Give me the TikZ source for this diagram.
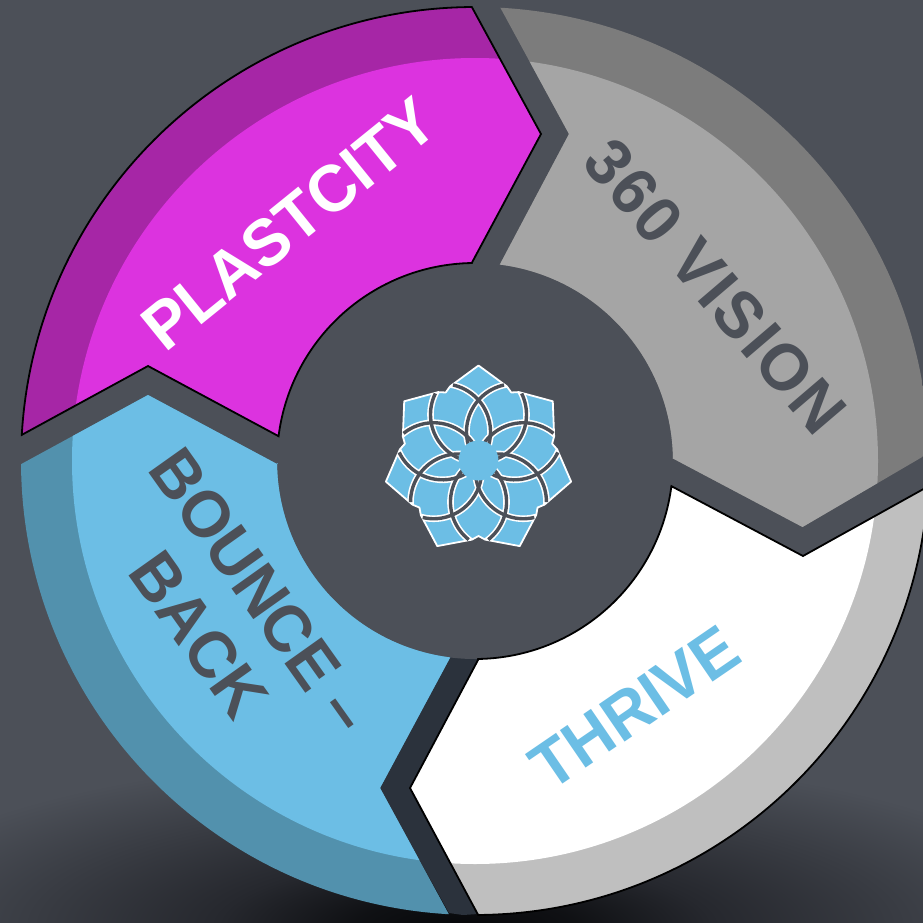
\documentclass[tikz,border=0pt]{standalone}
\usepackage{fontspec}
\usetikzlibrary{calc}
\setmainfont{Liberation Sans}
\newfontfamily\labelfont{Liberation Sans Bold}[FakeStretch=0.97]
\newfontfamily\labelwide{Liberation Sans Bold}[FakeStretch=0.97,LetterSpace=4]
\definecolor{bgc}{HTML}{4C5058}
\definecolor{magc}{HTML}{DC33DF}
\definecolor{magd}{HTML}{A626A6}
\definecolor{grayc}{HTML}{A5A5A5}
\definecolor{grayd}{HTML}{7C7C7C}
\definecolor{bluec}{HTML}{6CBEE5}
\definecolor{blued}{HTML}{5291AD}
\definecolor{whited}{HTML}{BFBFBF}
\definecolor{stripc}{HTML}{2B323C}
\definecolor{shad}{HTML}{060709}
\definecolor{shadm}{HTML}{26282E}
\pgfdeclareradialshading{botshadow}{\pgfpoint{0bp}{0bp}}{%
  color(0bp)=(shad); color(4.5bp)=(shad!70!shadm); color(10bp)=(shadm);
  color(25bp)=(bgc); color(50bp)=(bgc)}
\tikzset{
  seglabel/.style={font=\labelfont\fontsize{66}{76}\selectfont, inner sep=0pt},
  logoline/.style={line cap=butt},
  rimline/.style={black,line width=1.8pt,line join=miter},
}
\newcommand{\logostar}{%
  ($(L)+(-90:95pt)$)
  \foreach \k in {0,...,6} {
    -- ($(L)+({-90+\k*360/7+20.9}:79.4pt)$)
    -- ($(L)+({-90+\k*360/7+25.7}:75.5pt)$)
    -- ($(L)+({-90+\k*360/7+30.5}:79.4pt)$)
    -- ($(L)+({-90+(\k+1)*360/7}:95pt)$)
  } -- cycle}
\begin{document}
\begin{tikzpicture}[x=1pt,y=1pt,yscale=-1]
\useasboundingbox (0,0) rectangle (923,923);
\clip (0,0) rectangle (923,923);
\fill[bgc] (0,0) rectangle (923,923);
\coordinate (O) at (475,461);
\coordinate (L) at (478.5,460.5);
% shadow under the wheel
\shade[shading=botshadow] (465,928) ellipse (620pt and 175pt);
% strip between blue and white
\fill[stripc] (450,650) -- (478,650) -- (478,660) -- (410,788) -- (478,914) -- (463,915) -- (449,913) -- (380,788) -- cycle;
% hub
\fill[bgc] (O) circle (198pt);
% magenta
\begin{scope}
\clip ($(O)+(183.3:454pt)$) arc[start angle=183.3,end angle=269.6,radius=454pt]
  -- (541,134) -- (472,262.5) -- ($(O)+(269.1:198pt)$) arc[start angle=269.1,end angle=187.2,radius=198pt] -- (148,366) -- cycle;
\fill[magd] (0,0) rectangle (923,923);
\fill[magc] (O) circle (403pt);
\end{scope}
\draw[rimline] ($(O)+(183.3:454pt)$) arc[start angle=183.3,end angle=269.6,radius=454pt]
  -- (541,134) -- (472,262.5) -- ($(O)+(269.1:198pt)$) arc[start angle=269.1,end angle=187.2,radius=198pt] -- (148,366) -- cycle;
% gray
\begin{scope}
\clip ($(O)+(273.2:454pt)$) arc[start angle=273.2,end angle=359,radius=454pt]
  -- (802.5,527) -- (673,458.5) -- ($(O)+(359.4:198pt)$) arc[start angle=359.4,end angle=277.2,radius=198pt] -- (569,134) -- cycle;
\fill[grayd] (0,0) rectangle (930,923);
\fill[grayc] (O) circle (403pt);
\end{scope}
% white
\begin{scope}
\clip ($(O)+(3.2:454pt)$) arc[start angle=3.2,end angle=89.6,radius=454pt]
  -- (410,788) -- (478,660) -- ($(O)+(89.1:198pt)$) arc[start angle=89.1,end angle=7.3,radius=198pt] -- (803,556) -- cycle;
\fill[whited] (0,0) rectangle (930,923);
\fill[white] (O) circle (403pt);
\end{scope}
\draw[rimline] ($(O)+(3.2:454pt)$) arc[start angle=3.2,end angle=89.6,radius=454pt]
  -- (410,788) -- (478,660) -- ($(O)+(89.1:198pt)$) arc[start angle=89.1,end angle=7.3,radius=198pt] -- (803,556) -- cycle;
% blue
\begin{scope}
\clip ($(O)+(93.3:454pt)$) arc[start angle=93.3,end angle=179.6,radius=454pt]
  -- (148,395) -- (277,464) -- ($(O)+(179.4:198pt)$) arc[start angle=179.4,end angle=97.2,radius=198pt] -- (380,788) -- cycle;
\fill[blued] (0,0) rectangle (923,923);
\fill[bluec] (O) circle (403pt);
\end{scope}
% logo
\fill[bluec,draw=white,line width=1.8pt,line join=round] \logostar;
\begin{scope}
\clip \logostar;
\foreach \k in {0,...,6} {
  \pgfmathsetmacro{\ax}{-90+\k*360/7}
  \coordinate (C) at ($(L)+(\ax:46pt)$);
  \draw[white,line width=6.6pt,logoline] ($(C)+(\ax+58:48pt)$) arc[start angle=\ax+58,end angle=\ax+170,radius=48pt];
  \draw[white,line width=6.6pt,logoline] ($(C)+(\ax-58:48pt)$) arc[start angle=\ax-58,end angle=\ax-170,radius=48pt];
}
\end{scope}
\foreach \k in {0,...,6} {
  \pgfmathsetmacro{\ax}{-90+\k*360/7}
  \coordinate (C) at ($(L)+(\ax:46pt)$);
  \draw[bgc,line width=3.4pt,logoline] ($(C)+(\ax+64:48pt)$) arc[start angle=\ax+64,end angle=\ax+170,radius=48pt];
  \draw[bgc,line width=3.4pt,logoline] ($(C)+(\ax-64:48pt)$) arc[start angle=\ax-64,end angle=\ax-170,radius=48pt];
}
\fill[bluec] (L) circle (20pt);
% labels
\node[seglabel,text=white,anchor=base,rotate=39] (plast) at (303.5,242) {PLASTCITY};
\node[seglabel,font=\labelwide\fontsize{66}{76}\selectfont,text=bgc,anchor=base,rotate=-49.5] (vision) at (698,301) {360 VISION};
\node[seglabel,text=bluec,anchor=base,rotate=34.4] (thrive) at (647.5,726.5) {THRIVE};
\node[seglabel,text=bgc,align=center,rotate=-54.6] (bounce) at (230,613) {BOUNCE –\\BACK};
\end{tikzpicture}
\end{document}
